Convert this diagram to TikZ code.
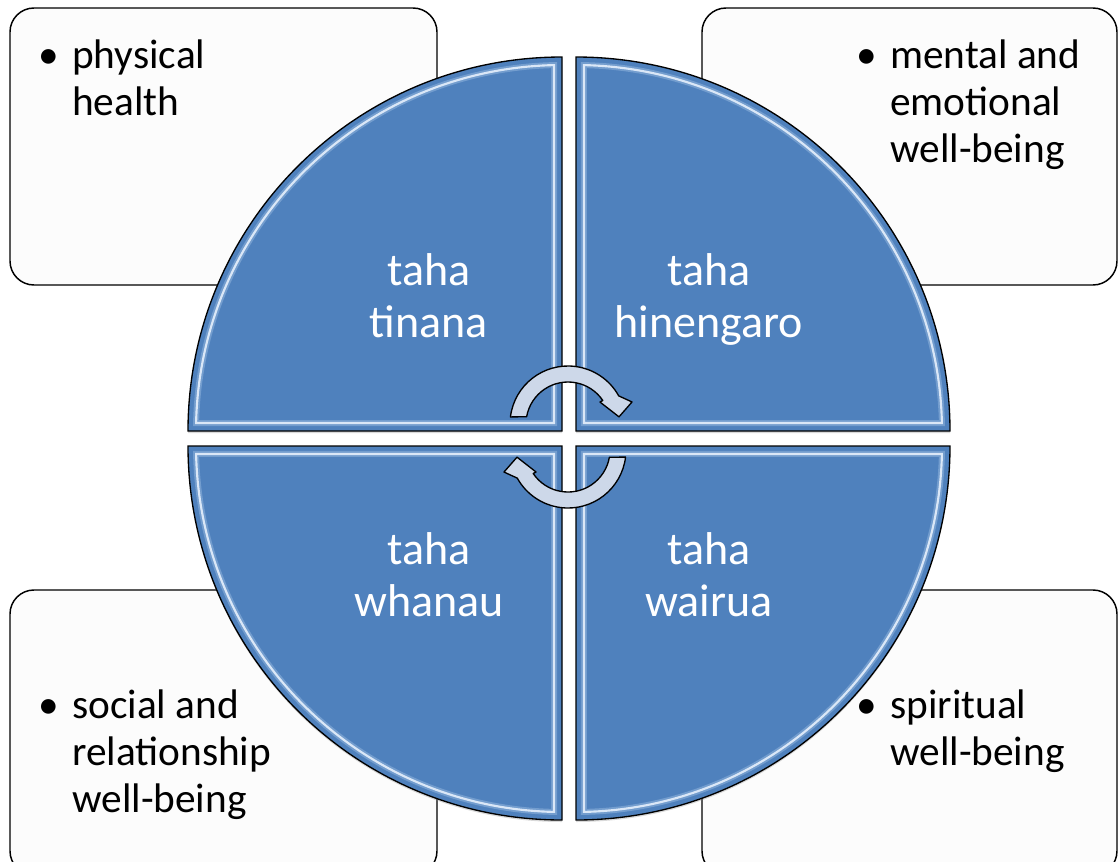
\documentclass[tikz,border=0pt]{standalone}
\usepackage{fontspec}
\setmainfont{Carlito}
\usetikzlibrary{shadows}
\definecolor{quadblue}{HTML}{4F81BD}
\definecolor{bevel}{HTML}{C8DEF8}
\definecolor{arrowfill}{HTML}{CDD8E9}
\definecolor{boxfill}{HTML}{FCFCFC}
\tikzset{
  sidebox/.style={draw=black, line width=1.1pt, fill=boxfill, rounded corners=18pt},
  quarter/.style={draw=black, line width=1pt, fill=quadblue,
    drop shadow={shadow xshift=0pt, shadow yshift=-1.5pt, opacity=.3}},
  glow/.style={draw=bevel, line width=4.5pt, opacity=.3},
  shine/.style={draw=white!55!bevel, line width=1.6pt, opacity=.9},
  turn/.style={draw=black, line width=1pt, fill=arrowfill, line join=round},
  boxtext/.style={anchor=base west, inner sep=0pt, font=\fontsize{31}{35.25}\selectfont},
  quadtext/.style={anchor=base, inner sep=0pt, text=white, font=\fontsize{34.5}{39}\selectfont},
}
\newcommand{\bul}{\makebox[25.5pt][l]{\textbullet}}

\begin{document}
\begin{tikzpicture}[x=.75pt,y=-.75pt]
\useasboundingbox (0,0) rectangle (1118,861);
% boxes behind the wheel
\draw[sidebox] (10,8) rectangle (437,285);
\draw[sidebox] (702,8) rectangle (1117,285);
\draw[sidebox] (10,590) rectangle (437,875);
\draw[sidebox] (702,590) rectangle (1117,875);

% four quarters of the wheel
\foreach \cx/\cy/\a in {562/431/180,576/431/270,576/446/0,562/446/90}{
  \begin{scope}[shift={(\cx,\cy)}]
    \draw[quarter] (0,0) -- (\a:374) arc[start angle=\a, delta angle=90, radius=374] -- cycle;
    \foreach \s in {glow,shine}
      \draw[\s] ({\a+45}:11.3) -- ({\a+1.25}:366) arc[start angle={\a+1.25}, delta angle=87.5, radius=366] -- cycle;
  \end{scope}
}

% turning arrows
\begin{scope}[shift={(568,424)}]
  \draw[turn] (187:58) arc[start angle=187, end angle=331, radius=58] -- (341:67.7) -- (352:51.5)
    -- (325.5:38.8) -- (326:42) arc[start angle=326, end angle=190, radius=42] -- cycle;
\end{scope}
\begin{scope}[shift={(568,450)}, rotate=180]
  \draw[turn] (187:58) arc[start angle=187, end angle=331, radius=58] -- (341:67.7) -- (352:51.5)
    -- (325.5:38.8) -- (326:42) arc[start angle=326, end angle=190, radius=42] -- cycle;
\end{scope}

\node[quadtext] (tinana) at (429,285) {\begin{tabular}[t]{@{}c@{}}taha\\tinana\end{tabular}};
\node[quadtext] (hinengaro) at (709,285) {\begin{tabular}[t]{@{}c@{}}taha\\hinengaro\end{tabular}};
\node[quadtext] (whanau) at (429,564) {\begin{tabular}[t]{@{}c@{}}taha\\whanau\end{tabular}};
\node[quadtext] (wairua) at (709,564) {\begin{tabular}[t]{@{}c@{}}taha\\wairua\end{tabular}};

\node[boxtext] (physical) at (38,68) {\begin{tabular}[t]{@{}l@{}l@{}}\bul & physical\\ & health\end{tabular}};
\node[boxtext] (mental) at (856,68) {\begin{tabular}[t]{@{}l@{}l@{}}\bul & mental and\\ & emotional\\ & well-being\end{tabular}};
\node[boxtext] (social) at (38,718) {\begin{tabular}[t]{@{}l@{}l@{}}\bul & social and\\ & relationship\\ & well-being\end{tabular}};
\node[boxtext] (spiritual) at (856,718) {\begin{tabular}[t]{@{}l@{}l@{}}\bul & spiritual\\ & well-being\end{tabular}};

\end{tikzpicture}
\end{document}
